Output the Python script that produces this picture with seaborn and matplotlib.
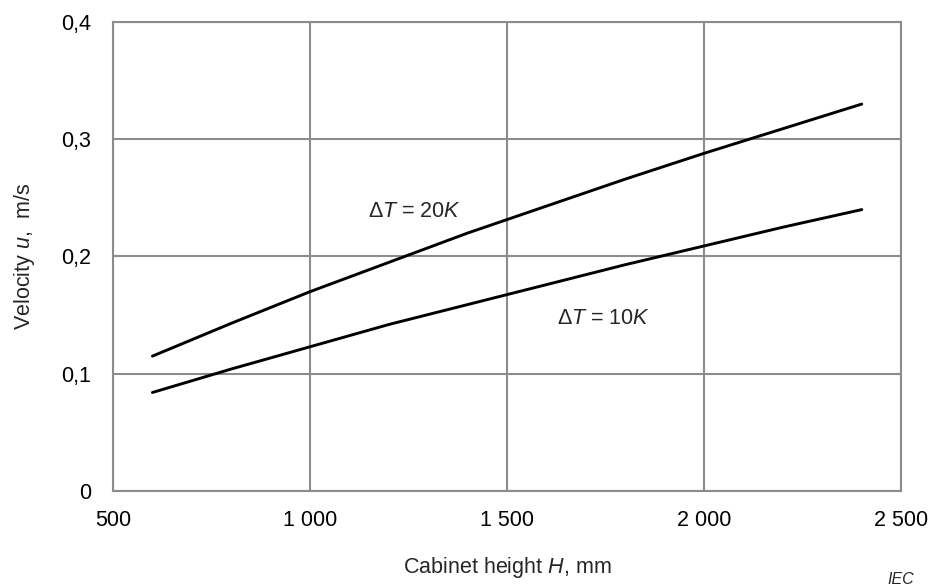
import matplotlib
matplotlib.use("Agg")
import matplotlib.pyplot as plt
import seaborn as sns
import pandas as pd

heights = [600, 800, 1000, 1200, 1400, 1600, 1800, 2000, 2200, 2400]
vel_20k = [0.115, 0.143, 0.170, 0.195, 0.220, 0.243, 0.266, 0.288, 0.309, 0.330]
vel_10k = [0.084, 0.104, 0.123, 0.142, 0.159, 0.176, 0.193, 0.209, 0.225, 0.240]
series_names = ["ΔT = 20K", "ΔT = 10K"]
x_ticks = [500, 1000, 1500, 2000, 2500]
x_ticklabels = ["500", "1 000", "1 500", "2 000", "2 500"]
y_ticks = [0.0, 0.1, 0.2, 0.3, 0.4]
y_ticklabels = ["0", "0,1", "0,2", "0,3", "0,4"]

df = pd.DataFrame({
    "H": heights * 2,
    "u": vel_20k + vel_10k,
    "series": [series_names[0]] * len(heights) + [series_names[1]] * len(heights),
})

sns.set_theme(style="whitegrid")
plt.rcParams["font.family"] = ["Liberation Sans", "DejaVu Sans"]
plt.rcParams["mathtext.fontset"] = "custom"
plt.rcParams["mathtext.rm"] = "Liberation Sans"
plt.rcParams["mathtext.it"] = "Liberation Sans:italic"
grid_c = "#8c8c8c"
fs = 15.5

fig = plt.figure(figsize=(9.3, 5.88), dpi=100)
ax = fig.add_axes([0.1215, 0.165, 0.969 - 0.1215, 0.9626 - 0.165])
sns.lineplot(data=df, x="H", y="u", hue="series", palette=["black", "black"],
             linewidth=2.1, legend=False, ax=ax)

ax.set_xlim(500, 2500)
ax.set_ylim(0, 0.4)
ax.set_xticks(x_ticks)
ax.set_xticklabels(x_ticklabels)
ax.set_yticks(y_ticks)
ax.set_yticklabels(y_ticklabels)
ax.grid(True, color=grid_c, linewidth=1.5)
for s in ax.spines.values():
    s.set_color(grid_c)
    s.set_linewidth(1.5)
ax.tick_params(axis="both", which="major", direction="out", length=5.8, width=1.5,
               color=grid_c, labelsize=fs, labelcolor="black")
ax.tick_params(axis="x", pad=8)
ax.tick_params(axis="y", pad=10)
ax.set_axisbelow(True)

ax.set_xlabel("Cabinet height $\\mathit{H}$, mm", fontsize=fs, labelpad=17)
ax.set_ylabel("Velocity $\\mathit{u}$,  m/s", fontsize=fs, labelpad=17)

ax.text(1147, 0.238, "Δ$\\mathit{T}$ = 20$\\mathit{K}$", fontsize=fs, va="center", ha="left")
ax.text(1626, 0.1475, "Δ$\\mathit{T}$ = 10$\\mathit{K}$", fontsize=fs, va="center", ha="left")

fig.text(901 / 930, 1 - 580 / 588, "IEC", fontsize=11.5, style="italic", ha="center", va="center")

fig.savefig("out.png", dpi=100, facecolor="white")
